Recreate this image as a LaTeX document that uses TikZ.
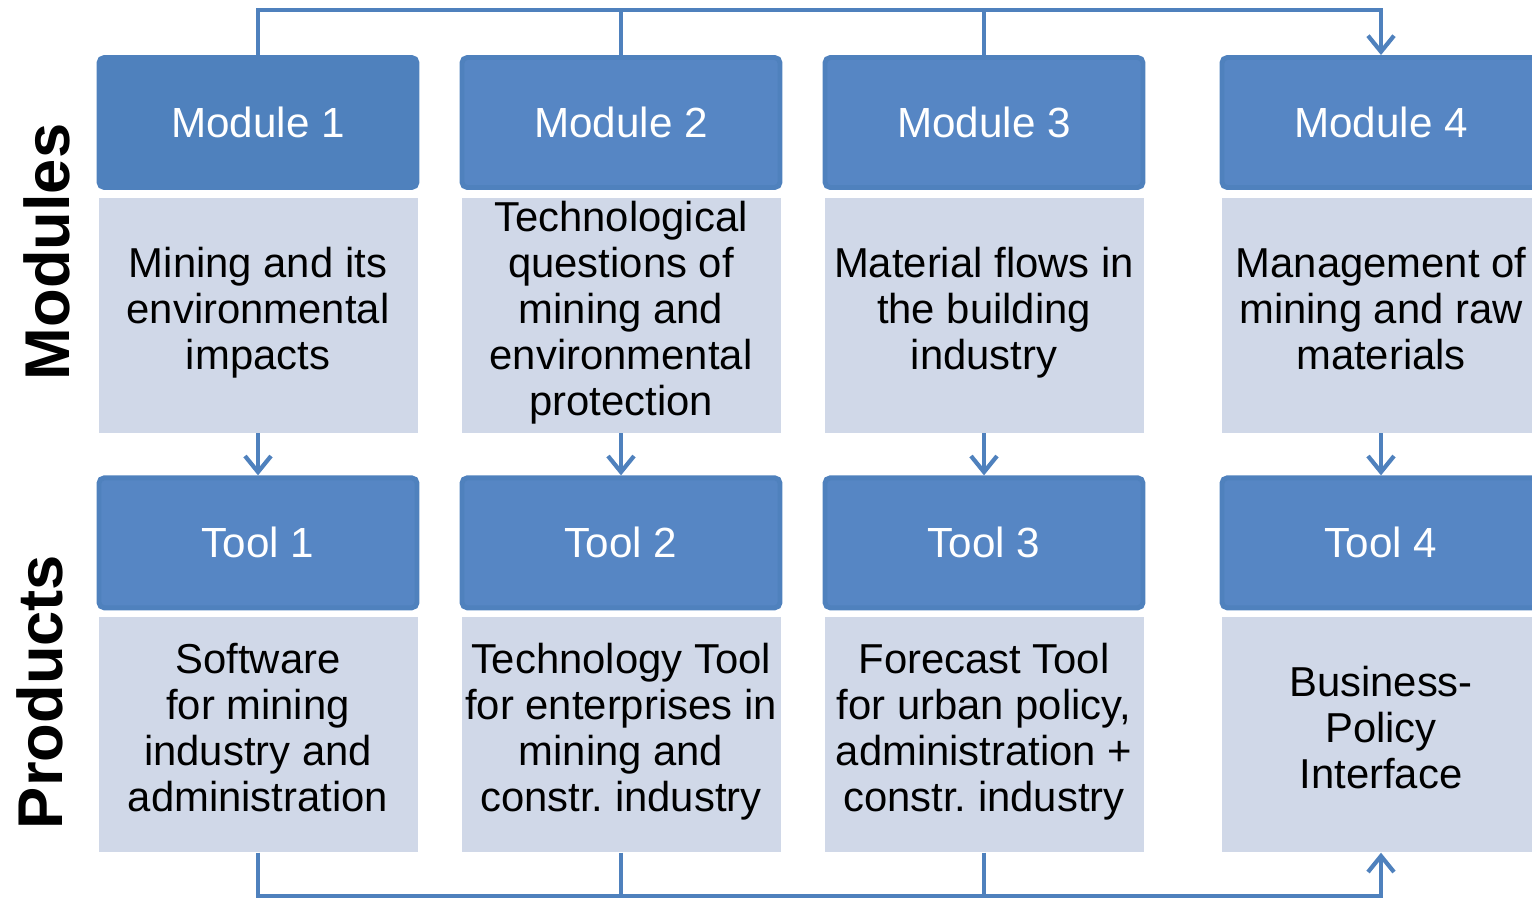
\documentclass[tikz,border=0pt]{standalone}
\usepackage{fontspec}
\setmainfont{Liberation Sans}
\usetikzlibrary{positioning,arrows.meta}
\frenchspacing

\definecolor{hdrblue}{RGB}{79,129,189}
\definecolor{hdrfill}{RGB}{86,134,196}
\definecolor{bodyfill}{RGB}{208,216,232}

\tikzset{
  hdr/.style={fill=hdrfill,draw=hdrblue,line width=1.4pt,rounded corners=1.5pt,
    minimum width=3.18cm,minimum height=1.30cm,inner sep=0pt,text=white,
    font=\fontsize{12}{13}\selectfont},
  body/.style={fill=bodyfill,minimum width=3.19cm,minimum height=2.35cm,
    inner sep=0pt,align=center,font=\fontsize{11.9}{13.1}\selectfont,
    execute at begin node=\strut,execute at end node=\strut},
  link/.style={draw=hdrblue,line width=1.2pt},
  tip/.style={-{Straight Barb[length=1.6mm,width=2.6mm,line width=1.2pt]}},
  side/.style={rotate=90,font=\fontsize{18}{20}\selectfont\bfseries}
}

\begin{document}
\begin{tikzpicture}
    \clip (0,0) rectangle (15.32,9);

    % Side labels
    \node[side] (modlab) at (0.47,6.48) {Modules};
    \node[side] (prodlab) at (0.40,2.08) {Products};

    % Modules
    \node[hdr,fill=hdrblue] (m1) at (2.58,7.775) {Module 1};
    \node[hdr] (m2) at (6.21,7.775) {Module 2};
    \node[hdr] (m3) at (9.84,7.775) {Module 3};
    \node[hdr] (m4) at (13.81,7.775) {Module 4};

    \node[body,below=0.07 of m1] (b1) {Mining and its\\environmental\\impacts};
    \node[body,below=0.07 of m2] (b2) {Technological\\questions of\\mining and\\environmental\\protection};
    \node[body,below=0.07 of m3] (b3) {Material flows in\\the building\\industry};
    \node[body,below=0.07 of m4] (b4) {Management of\\mining and raw\\materials};

    % Products
    \node[hdr,below=0.42 of b1] (t1) {Tool 1};
    \node[hdr,below=0.42 of b2] (t2) {Tool 2};
    \node[hdr,below=0.42 of b3] (t3) {Tool 3};
    \node[hdr,below=0.42 of b4] (t4) {Tool 4};

    \node[body,below=0.06 of t1] (p1) {Software\\for mining\\industry and\\administration};
    \node[body,below=0.06 of t2] (p2) {Technology Tool\\for enterprises in\\mining and\\constr. industry};
    \node[body,below=0.06 of t3] (p3) {Forecast Tool\\for urban policy,\\administration +\\constr. industry};
    \node[body,below=0.06 of t4] (p4) {Business-\\Policy\\Interface};

    % Connections
    \coordinate (top) at (2.58,8.90);
    \coordinate (bot) at (2.58,0.04);
    \draw[link,tip] (m1.north) -- (m1.north |- top) -| (m4.north);
    \draw[link] (m2.north) -- (m2.north |- top);
    \draw[link] (m3.north) -- (m3.north |- top);
    \foreach \i in {1,2,3,4}
      \draw[link,tip] (b\i.south) -- (t\i.north);
    \draw[link,tip] (p1.south) -- (p1.south |- bot) -| (p4.south);
    \draw[link] (p2.south) -- (p2.south |- bot);
    \draw[link] (p3.south) -- (p3.south |- bot);
\end{tikzpicture}
\end{document}
